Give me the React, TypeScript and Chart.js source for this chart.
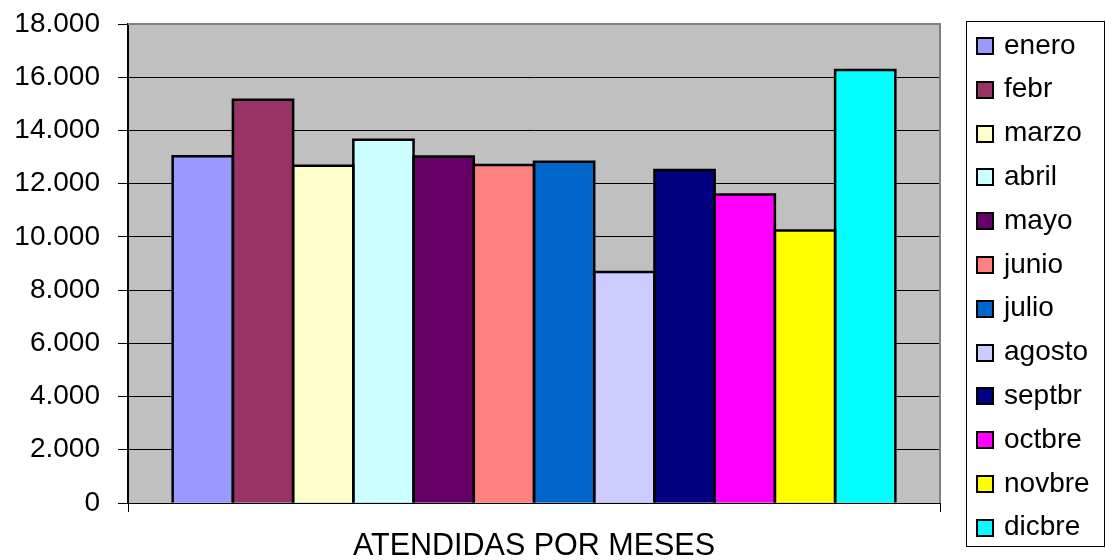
import React, { useEffect, useRef } from "react";
import { Chart, registerables } from "chart.js";

Chart.register(...registerables);

// Single category on the x axis; one dataset per month.
const categories = ["ATENDIDAS POR MESES"];
const months = [
  "enero", "febr", "marzo", "abril", "mayo", "junio",
  "julio", "agosto", "septbr", "octbre", "novbre", "dicbre",
];
const attended = [
  13030, 15150, 12670, 13650, 13020, 12700,
  12820, 8680, 12510, 11590, 10240, 16270,
];
const monthColors = [
  "#9999FF", "#993366", "#FFFFCC", "#CCFFFF", "#660066", "#FF8080",
  "#0066CC", "#CCCCFF", "#000080", "#FF00FF", "#FFFF00", "#00FFFF",
];
const yMin = 0;
const yMax = 18000;
const yStep = 2000;

const FONT = "'Liberation Sans', Arial, sans-serif";

// Thousands separator with a dot: 12000 -> "12.000"
const formatThousands = (v: number) =>
  String(Math.round(v)).replace(/\B(?=(\d{3})+(?!\d))/g, ".");

// Grey plot background plus the grey frame on top and right.
const plotFrame = {
  id: "plotFrame",
  beforeDraw(chart: any) {
    const { ctx, chartArea } = chart;
    ctx.save();
    ctx.fillStyle = "#C0C0C0";
    ctx.fillRect(
      chartArea.left,
      chartArea.top,
      chartArea.right - chartArea.left,
      chartArea.bottom - chartArea.top
    );
    ctx.restore();
  },
  afterDraw(chart: any) {
    const { ctx, chartArea } = chart;
    ctx.save();
    ctx.strokeStyle = "#808080";
    ctx.lineWidth = 2;
    ctx.beginPath();
    ctx.moveTo(chartArea.left, chartArea.top);
    ctx.lineTo(chartArea.right, chartArea.top);
    ctx.lineTo(chartArea.right, chartArea.bottom);
    ctx.stroke();
    ctx.restore();
  },
};

// Heavy black outline centred on each bar's edges, so neighbours share one line.
const barOutline = {
  id: "barOutline",
  afterDatasetsDraw(chart: any) {
    const { ctx } = chart;
    ctx.save();
    ctx.strokeStyle = "#000";
    ctx.lineWidth = 2.5;
    ctx.lineJoin = "miter";
    chart.data.datasets.forEach((_: any, di: number) => {
      const meta = chart.getDatasetMeta(di);
      meta.data.forEach((bar: any) => {
        const { x, y, base, width } = bar.getProps(["x", "y", "base", "width"], true);
        const left = x - width / 2;
        ctx.beginPath();
        ctx.moveTo(left, base);
        ctx.lineTo(left, y);
        ctx.lineTo(left + width, y);
        ctx.lineTo(left + width, base);
        ctx.stroke();
      });
    });
    ctx.restore();
  },
};

// Boxed legend on the right, one row per month dataset.
const monthLegend = {
  id: "monthLegend",
  afterDraw(chart: any) {
    const { ctx } = chart;
    const datasets = chart.data.datasets;
    ctx.save();
    ctx.strokeStyle = "#000";
    ctx.lineWidth = 1;
    ctx.strokeRect(966.5, 21.5, 138, 525);
    ctx.font = `28px ${FONT}`;
    ctx.textAlign = "left";
    ctx.textBaseline = "alphabetic";
    datasets.forEach((ds: any, i: number) => {
      const cy = 46 + i * 43.8;
      const top = Math.round(cy - 8);
      ctx.fillStyle = ds.backgroundColor;
      ctx.fillRect(977, top, 16, 16);
      ctx.lineWidth = 2;
      ctx.strokeStyle = "#000";
      ctx.strokeRect(977, top, 16, 16);
      ctx.fillStyle = "#000";
      ctx.fillText(ds.label, 1004, cy + 7.5);
    });
    ctx.restore();
  },
};

export default function App() {
  const canvasRef = useRef<HTMLCanvasElement | null>(null);

  useEffect(() => {
    document.body.style.margin = "0";
    const canvas = canvasRef.current;
    if (!canvas) return;

    const chart = new Chart(canvas, {
      type: "bar",
      data: {
        labels: categories,
        datasets: months.map((m, i) => ({
          label: m,
          data: [attended[i]],
          backgroundColor: monthColors[i],
          borderWidth: 0,
          categoryPercentage: 0.89,
          barPercentage: 1,
        })),
      },
      options: {
        responsive: false,
        animation: false,
        layout: { padding: { left: 0, top: 24, right: 166, bottom: 0 } },
        plugins: {
          legend: { display: false },
          title: { display: false },
          tooltip: { enabled: false },
        },
        scales: {
          x: {
            offset: true,
            grid: {
              offset: true,
              drawOnChartArea: false,
              drawTicks: true,
              tickLength: 9,
              color: "#000",
              tickColor: "#000",
            },
            border: { display: true, color: "#000", width: 1 },
            ticks: {
              color: "#000",
              padding: 16,
              font: { family: FONT, size: 30.5 },
              maxRotation: 0,
            },
            afterFit(scale: any) {
              scale.height = 57;
              scale.paddingLeft = 0;
              scale.paddingRight = 0;
            },
          },
          y: {
            min: yMin,
            max: yMax,
            grid: {
              color: "#000",
              tickColor: "#000",
              lineWidth: 1,
              tickLength: 10,
            },
            border: { display: true, color: "#000", width: 2 },
            ticks: {
              stepSize: yStep,
              color: "#000",
              padding: 18,
              font: { family: FONT, size: 28 },
              callback: (v: any) => formatThousands(Number(v)),
            },
            afterFit(scale: any) {
              scale.width = 128;
              scale.paddingTop = 0;
              scale.paddingBottom = 0;
            },
          },
        },
      },
      plugins: [plotFrame, barOutline, monthLegend],
    });

    return () => chart.destroy();
  }, []);

  return (
    <div style={{ position: "relative", width: 1106, height: 560 }}>
      <canvas ref={canvasRef} width={1106} height={560} />
    </div>
  );
}
